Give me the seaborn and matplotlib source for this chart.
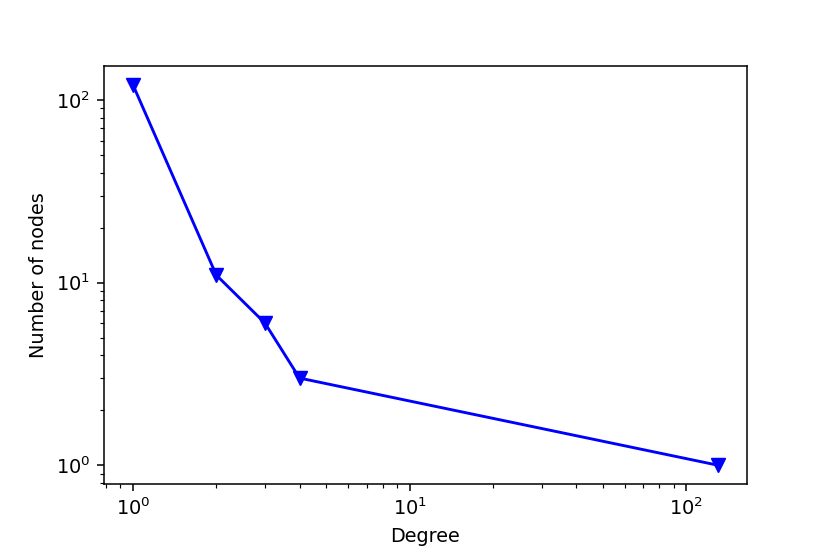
import matplotlib
matplotlib.use("Agg")
import matplotlib.pyplot as plt
import seaborn as sns
import pandas as pd

degree = [1, 2, 3, 4, 130]
num_nodes = [121, 11, 6, 3, 1]


def main():
    df = pd.DataFrame({"Degree": degree, "Number of nodes": num_nodes})

    dpi = 138.33
    fig, ax = plt.subplots(figsize=(830 / dpi, 554 / dpi), dpi=dpi)
    fig.subplots_adjust(left=0.125, right=0.9, top=0.881, bottom=0.126)

    sns.lineplot(
        data=df,
        x="Degree",
        y="Number of nodes",
        ax=ax,
        color="blue",
        marker="v",
        markersize=7,
        markeredgecolor="blue",
        linewidth=1.5,
    )
    ax.set_xscale("log")
    ax.set_yscale("log")
    ax.set_xlabel("Degree")
    ax.set_ylabel("Number of nodes")

    fig.savefig("out.png", dpi=dpi)


if __name__ == "__main__":
    main()
